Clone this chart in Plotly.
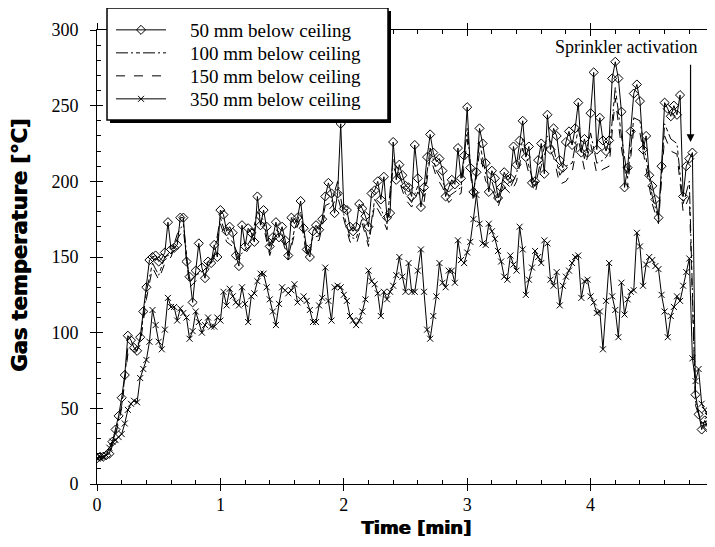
import plotly.graph_objects as go

# ---------------- data ----------------
time_fine = [round(i * 0.025, 3) for i in range(201)]
time_coarse = [round(i * 0.05, 3) for i in range(101)]

temp_50mm = [
    17, 18, 18, 19, 20, 28, 36, 45, 57, 72, 98, 95, 90, 88, 97, 114, 130, 148, 150, 151,
    147, 149, 153, 173, 155, 156, 158, 176, 176, 147, 137, 120, 141, 159, 143, 136, 147, 146, 158, 150,
    181, 178, 167, 170, 166, 151, 144, 171, 157, 169, 166, 160, 190, 171, 181, 170, 157, 163, 173, 163,
    170, 161, 151, 176, 172, 176, 187, 169, 155, 150, 167, 171, 168, 175, 190, 199, 192, 179, 192, 238,
    182, 181, 170, 167, 170, 185, 182, 177, 170, 192, 194, 200, 188, 203, 176, 179, 226, 201, 211, 204,
    197, 196, 190, 224, 202, 183, 196, 216, 231, 219, 213, 215, 207, 190, 196, 201, 198, 222, 202, 217,
    249, 209, 193, 206, 235, 225, 212, 193, 207, 202, 189, 196, 206, 201, 202, 223, 211, 227, 240, 216,
    223, 199, 200, 214, 225, 205, 244, 221, 235, 230, 214, 209, 226, 233, 224, 235, 252, 219, 228, 219,
    245, 272, 221, 242, 227, 220, 227, 268, 279, 268, 246, 196, 209, 233, 258, 264, 253, 221, 230, 204,
    197, 188, 176, 210, 252, 248, 243, 250, 244, 257, 190, 210, 215, 219, 59, 46, 36, 42, 37, 47,
    37,
]

temp_350mm = [
    17, 18, 18, 19, 24, 28, 29, 31, 33, 40, 49, 53, 55, 54, 70, 76, 82, 94, 115, 105,
    94, 89, 102, 123, 117, 117, 108, 116, 113, 110, 96, 101, 114, 107, 100, 105, 110, 104, 104, 110,
    108, 127, 118, 129, 124, 120, 118, 130, 119, 107, 124, 126, 134, 139, 139, 130, 122, 114, 105, 119,
    130, 128, 126, 128, 132, 120, 122, 124, 121, 115, 107, 107, 118, 123, 143, 121, 108, 130, 131, 130,
    125, 121, 111, 108, 105, 108, 114, 122, 141, 134, 132, 126, 111, 127, 122, 127, 131, 138, 150, 137,
    127, 146, 127, 127, 141, 155, 127, 102, 96, 111, 124, 146, 133, 130, 141, 141, 133, 161, 148, 146,
    153, 160, 175, 191, 172, 159, 158, 172, 167, 162, 154, 147, 137, 135, 151, 145, 141, 170, 155, 125,
    135, 143, 154, 150, 146, 161, 159, 135, 131, 140, 118, 131, 137, 141, 146, 150, 151, 123, 134, 135,
    124, 120, 113, 114, 89, 121, 146, 124, 115, 97, 133, 112, 122, 127, 128, 166, 157, 131, 145, 150,
    148, 144, 142, 125, 114, 97, 111, 117, 124, 121, 131, 140, 149, 83, 68, 76, 53, 49, 45, 56,
    52,
]

temp_100mm = [
    17, 18, 21, 34, 52, 90, 88, 95, 127, 146, 138, 150, 152, 165, 172, 133, 138, 140, 143, 152,
    176, 163, 160, 150, 155, 162, 180, 174, 153, 168, 165, 150, 168, 180, 152, 163, 164, 184, 186, 200,
    178, 163, 162, 176, 160, 188, 182, 172, 215, 205, 192, 186, 197, 190, 222, 207, 200, 190, 193, 196,
    235, 190, 226, 205, 200, 186, 200, 196, 205, 228, 210, 196, 215, 230, 222, 204, 210, 212, 235, 215,
    232, 212, 214, 218, 262, 230, 202, 242, 240, 215, 190, 175, 238, 228, 225, 185, 200, 55, 38, 40,
    42,
]

temp_150mm = [
    16, 17, 19, 32, 50, 86, 85, 92, 122, 143, 135, 146, 150, 162, 168, 130, 134, 137, 141, 150,
    172, 160, 157, 148, 152, 158, 176, 170, 151, 165, 162, 148, 165, 176, 150, 160, 161, 180, 183, 190,
    175, 160, 158, 172, 157, 185, 178, 168, 210, 200, 188, 183, 193, 186, 216, 203, 196, 186, 190, 192,
    228, 186, 220, 200, 196, 183, 196, 192, 200, 222, 205, 192, 210, 224, 216, 198, 200, 206, 228, 208,
    225, 205, 208, 210, 255, 222, 196, 235, 232, 208, 185, 172, 230, 220, 218, 180, 190, 52, 40, 42,
    45,
]

series_names = ["50 mm below ceiling", "100 mm below ceiling",
                "150 mm below ceiling", "350 mm below ceiling"]
x_ticks = [0, 1, 2, 3, 4, 5]
y_ticks = [0, 50, 100, 150, 200, 250, 300]

# ---------------- figure ----------------
SERIF = "Liberation Serif, Times New Roman, serif"
BOLD = "DejaVu Sans, Arial, sans-serif"

# page body has an 8px margin: work in screen pixels, convert to figure pixels
OFF = 8
W, H = 715, 547
L, R, T, B = 97, 714, 30, 484   # plot area in screen pixels


def px(xp):
    return (xp - L) / (R - L)


def py(yp):
    return (B - yp) / (B - T)


def cx(xp):
    return (xp - OFF) / W


def cy(yp):
    return 1 - (yp - OFF) / H


GAP = "\u00a0" * 4   # extra gap between legend symbol and label

fig = go.Figure()
fig.add_trace(go.Scatter(
    x=time_coarse, y=temp_150mm, name=GAP + series_names[2], mode="lines",
    line=dict(color="black", width=1, dash="dash"), legend="legend3"))
fig.add_trace(go.Scatter(
    x=time_coarse, y=temp_100mm, name=GAP + series_names[1], mode="lines",
    line=dict(color="black", width=1, dash="12px,3px,2px,3px,4px,3px"), legend="legend2"))
fig.add_trace(go.Scatter(
    x=time_fine, y=temp_350mm, name=GAP + series_names[3], mode="lines+markers",
    line=dict(color="black", width=1),
    marker=dict(symbol="x-thin-open", size=6, color="black", line=dict(color="black", width=1)),
    legend="legend4"))
fig.add_trace(go.Scatter(
    x=time_fine, y=temp_50mm, name=GAP + series_names[0], mode="lines+markers",
    line=dict(color="black", width=1),
    marker=dict(symbol="diamond-open", size=7, color="black", line=dict(color="black", width=1)),
    legend="legend"))

axis_common = dict(showgrid=False, zeroline=False, showline=True, linecolor="black", linewidth=1,
                   ticks="inside", ticklen=6, tickcolor="black", tickwidth=1, mirror="allticks",
                   automargin=False,
                   tickfont=dict(family=SERIF, size=18, color="black"))

legend_rows = [30, 53, 76, 99]   # screen y of each legend row
legend_x = 111


def leg(row_y):
    return dict(x=cx(legend_x), y=cy(row_y), xref="container", yref="container",
                xanchor="left", yanchor="middle",
                bgcolor="rgba(0,0,0,0)", borderwidth=0,
                font=dict(family=SERIF, size=19, color="black"), itemwidth=50)


fig.update_layout(
    width=W, height=H,
    margin=dict(l=L - OFF, r=W - (R - OFF), t=T - OFF, b=H - (B - OFF), autoexpand=False),
    paper_bgcolor="white", plot_bgcolor="white",
    showlegend=True,
    legend=leg(legend_rows[0]),
    legend2=leg(legend_rows[1]),
    legend3=leg(legend_rows[2]),
    legend4=leg(legend_rows[3]),
    xaxis=dict(range=[0, 5], tickvals=x_ticks, ticktext=[str(v) for v in x_ticks],
               minor=dict(dtick=0.2, ticks="inside", ticklen=4, tickcolor="black"),
               ticklabelstandoff=4, **axis_common),
    yaxis=dict(range=[0, 300], tickvals=y_ticks, ticktext=[str(v) for v in y_ticks],
               minor=dict(dtick=10, ticks="inside", ticklen=4, tickcolor="black"),
               ticklabelstandoff=14, **axis_common),
    xaxis2=dict(overlaying="x", range=[0, 5], tickvals=x_ticks, showticklabels=False,
                showline=False, showgrid=False, zeroline=False, ticks="outside", ticklen=6,
                tickcolor="black", mirror="allticks", matches="x", automargin=False),
    yaxis2=dict(overlaying="y", range=[0, 300], tickvals=y_ticks, showticklabels=False,
                showline=False, showgrid=False, zeroline=False, ticks="outside", ticklen=6,
                tickcolor="black", mirror="allticks", matches="y", automargin=False),
)
# dummy trace to activate the overlay axes
fig.add_trace(go.Scatter(x=[None], y=[None], xaxis="x2", yaxis="y2", showlegend=False,
                         hoverinfo="skip"))

# legend box with drop shadow
fig.add_shape(type="rect", xref="paper", yref="paper",
              x0=px(110), x1=px(391), y0=py(123), y1=py(11),
              fillcolor="black", line=dict(width=0), layer="above")
fig.add_shape(type="rect", xref="paper", yref="paper",
              x0=px(107), x1=px(388), y0=py(120), y1=py(8),
              fillcolor="white", line=dict(color="black", width=1.5), layer="above")

# annotations
fig.add_annotation(x=4.81, y=226, ax=4.81, ay=278, xref="x", yref="y", axref="x", ayref="y",
                   text="", showarrow=True, arrowhead=2, arrowsize=1.3, arrowwidth=1.2,
                   arrowcolor="black")
fig.add_annotation(x=4.29, y=289, xref="x", yref="y", text="Sprinkler activation",
                   xanchor="center", yanchor="middle", showarrow=False,
                   font=dict(family=SERIF, size=18, color="black"))
fig.add_annotation(x=px(20), y=py(246), xref="paper", yref="paper", text="Gas temperature [°C]",
                   textangle=-90, showarrow=False, xanchor="center", yanchor="middle",
                   font=dict(family=BOLD, size=21, color="black", weight="bold",
                             shadow="1px 0px 0px black"))
fig.add_annotation(x=px(416), y=py(527), xref="paper", yref="paper", text="Time [min]",
                   showarrow=False, xanchor="center", yanchor="middle",
                   font=dict(family=BOLD, size=18, color="black", weight="bold",
                             shadow="1px 0px 0px black"))

fig.write_html("out.html")
